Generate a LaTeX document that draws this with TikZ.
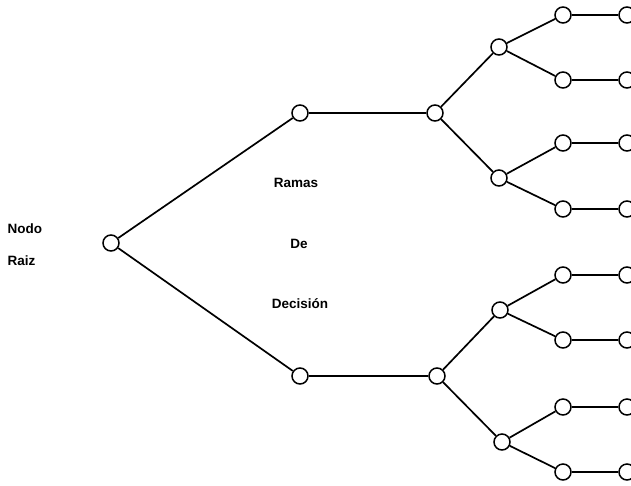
\documentclass[tikz,border=0pt]{standalone}
\usepackage{fontspec}
\setmainfont{Liberation Sans}
\begin{document}
\begin{tikzpicture}[x=1pt,y=-1pt,
    nodo/.style={draw, black, circle, line width=1.5pt, minimum size=16pt, inner sep=0pt},
    rama/.style={black, line width=1.7pt},
    etiqueta/.style={font=\fontsize{13.5}{15}\selectfont\bfseries}]
        \useasboundingbox (0,0) rectangle (631,485);
        \node[nodo] (raiz) at (111,243) {};
        \node[nodo] (a) at (300,113) {};
        \node[nodo] (b) at (300,376) {};
        \node[nodo] (a1) at (435,113) {};
        \node[nodo] (b1) at (437,376) {};
        \node[nodo] (a11) at (499,47) {};
        \node[nodo] (a12) at (499,178) {};
        \node[nodo] (b11) at (500,310) {};
        \node[nodo] (b12) at (502,442) {};
        \foreach \p/\y [count=\i] in {a11/15,a11/80,a12/143,a12/209,b11/275,b11/340,b12/407,b12/472} {
            \node[nodo] (h\i) at (563,\y) {};
            \node[nodo] (f\i) at (627,\y) {};
            \draw[rama] (\p) -- (h\i);
            \draw[rama] (h\i) -- (f\i);
        }
        \draw[rama] (raiz) -- (a);
        \draw[rama] (raiz) -- (b);
        \draw[rama] (a) -- (a1);
        \draw[rama] (b) -- (b1);
        \draw[rama] (a1) -- (a11);
        \draw[rama] (a1) -- (a12);
        \draw[rama] (b1) -- (b11);
        \draw[rama] (b1) -- (b12);
        \node[etiqueta, anchor=west] (nodo) at (4,229) {Nodo};
        \node[etiqueta, anchor=west] (raiztxt) at (4,261) {Raiz};
        \node[etiqueta] (ramas) at (296,183) {Ramas};
        \node[etiqueta] (de) at (299,244) {De};
        \node[etiqueta] (decision) at (300,304) {Decisión};
    \end{tikzpicture}
\end{document}
